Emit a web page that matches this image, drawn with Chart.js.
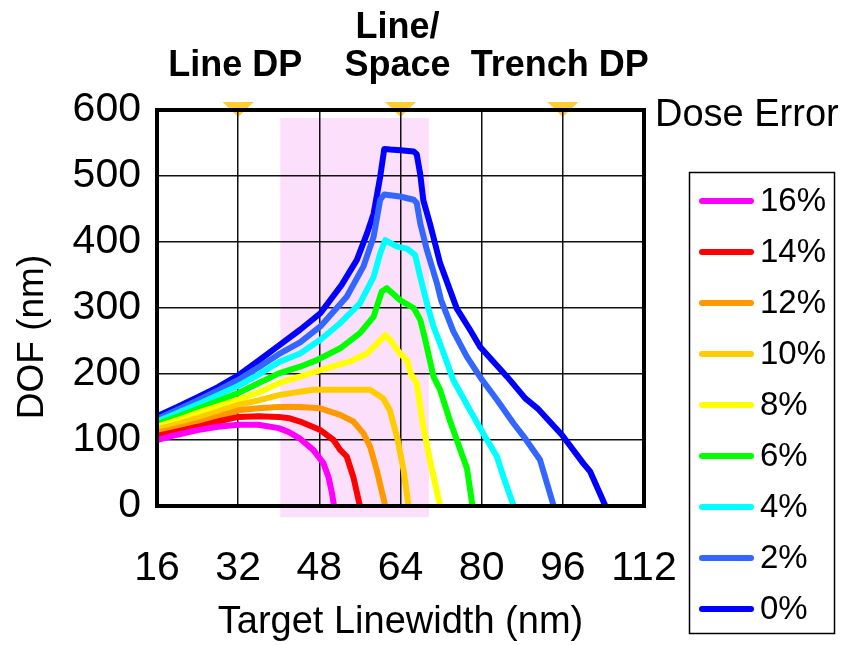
<!DOCTYPE html>
<html><head><meta charset="utf-8">
<script src="https://cdn.jsdelivr.net/npm/chart.js@4/dist/chart.umd.min.js"></script>
<style>html,body{margin:0;padding:0;background:#fff;}#wrap{position:relative;width:844px;height:645px;}</style>
</head><body><div id="wrap"><canvas id="c" width="844" height="645"></canvas></div>
<script>
// ---- data (Target Linewidth nm, DOF nm) ----
const doseLabels = ['16%','14%','12%','10%','8%','6%','4%','2%','0%'];
const dose16 = [[16,100],[20,108],[24,115],[28,120],[32,123],[36,123],[40,118],[42,112],[44.2,102],[46.8,85],[48.8,65],[49.8,44],[50.5,19],[50.9,0]];
const dose14 = [[16,106],[20,113],[24,120],[28,128],[32,135],[36,136],[40,135],[42,133],[44.2,128],[48.2,115],[50.8,100],[52.1,85],[53.4,75],[54.7,44],[56,0]];
const dose12 = [[16,111],[20,118],[24,126],[28,135],[32,145],[36,148],[40,150],[44.2,150],[48.2,148],[52.1,138],[54.7,128],[56.7,110],[58,90],[59.3,55],[61,0]];
const dose10 = [[16,116],[20,124],[24,133],[28,143],[32,153],[36,160],[40,168],[44.2,173],[46.8,176],[52,176],[58,176],[60.6,163],[61.9,145],[63.3,105],[64.6,55],[65.6,0]];
const dose8  = [[16,120],[20,130],[24,141],[28,151],[32,161],[36,172],[40,186],[44.2,196],[48.2,206],[54.1,219],[57.4,231],[60,251],[61,259],[62,251],[63.9,231],[65.3,221],[66,201],[67.2,186],[68.5,120],[69.8,70],[71.8,0]];
const dose6  = [[16,124],[20,135],[24,147],[28,159],[32,171],[36,186],[40,201],[44.2,211],[47.5,221],[52.1,239],[56,262],[58.7,287],[60.3,325],[61.3,330],[63.9,312],[66.6,300],[67.9,282],[68.9,251],[70.5,196],[71.8,176],[73.8,128],[75.8,85],[77.1,57],[78.2,0]];
const dose4  = [[16,128],[20,141],[24,154],[28,168],[32,182],[36,199],[40,218],[44.2,231],[48.2,252],[52.1,277],[56,307],[58.7,347],[60,383],[61,403],[63.3,393],[65.3,390],[66.9,380],[67.9,347],[69.2,307],[70.5,272],[72,242],[74.4,191],[77.7,145],[80.3,110],[83,75],[84.3,44],[86.3,0]];
const dose2  = [[16,132],[20,146],[24,160],[28,175],[32,191],[36,210],[40,230],[44.2,248],[48.2,272],[53.4,317],[56.7,363],[58.7,408],[60,464],[60.8,472],[63.9,469],[66.6,464],[67.2,459],[67.9,428],[69.2,388],[71.2,337],[72,312],[74.4,265],[77.1,226],[80,192],[83,161],[86.3,125],[88.6,102],[91.5,70],[94.2,0]];
const dose0  = [[16,136],[20,150],[24,165],[28,180],[32,198],[36,220],[40,243],[44.2,267],[48.2,292],[52.4,335],[55.4,373],[57.4,413],[58.7,443],[60,499],[60.8,541],[62,540],[64,539],[66.6,537],[67.2,533],[67.9,502],[68.5,463],[69.8,428],[71.8,368],[75.1,299],[77.7,267],[79.7,241],[83,213],[85,196],[88.6,163],[91,148],[95.8,108],[100,65],[101.4,52],[104.4,0]];
const doseSeries = [dose16, dose14, dose12, dose10, dose8, dose6, dose4, dose2, dose0];
const doseColors = ['#FF00FF','#FF0000','#FF9900','#FFCC00','#FFFF00','#00FF00','#00FFFF','#3366FF','#0000FF'];
const xTicks = [16,32,48,64,80,96,112];
const yTicks = [0,100,200,300,400,500,600];
const markerPositions = [32,64,96];
const markerLabels = [['Line DP'],['Line/','Space'],['Trench DP']];
const bandX = [40.3, 69.6];
const bandY = [-17, 588];
const legendTitle = 'Dose Error';
const yTitle = 'DOF (nm)';
const xTitle = 'Target Linewidth (nm)';

const FONT = "'Liberation Sans', Arial, sans-serif";

const decor = {
  id: 'decor',
  beforeDraw(chart) {
    const ctx = chart.ctx, xs = chart.scales.x, ys = chart.scales.y;
    ctx.save();
    ctx.fillStyle = '#fff';
    ctx.fillRect(0, 0, chart.width, chart.height);
    const x0 = xs.getPixelForValue(bandX[0]), x1 = xs.getPixelForValue(bandX[1]);
    const y0 = ys.getPixelForValue(bandY[1]), y1 = ys.getPixelForValue(bandY[0]);
    ctx.fillStyle = '#FCE0FB';
    ctx.fillRect(x0, y0, x1 - x0, y1 - y0);
    ctx.fillStyle = '#FFCC33';
    const top = chart.chartArea.top;
    markerPositions.forEach(v => {
      const px = xs.getPixelForValue(v);
      ctx.beginPath();
      ctx.moveTo(px - 15.5, top - 8);
      ctx.lineTo(px + 15.5, top - 8);
      ctx.lineTo(px, top + 7);
      ctx.closePath();
      ctx.fill();
    });
    ctx.restore();
  },
  afterDraw(chart) {
    const ctx = chart.ctx, xs = chart.scales.x;
    const ca = chart.chartArea;
    ctx.save();
    ctx.strokeStyle = '#000';
    ctx.lineWidth = 4;
    ctx.strokeRect(ca.left, ca.top, ca.right - ca.left, ca.bottom - ca.top);
    ctx.fillStyle = '#000';
    // y axis title
    ctx.save();
    ctx.font = '37px ' + FONT;
    ctx.translate(33, 337);
    ctx.rotate(-Math.PI / 2);
    ctx.textAlign = 'center';
    ctx.textBaseline = 'middle';
    ctx.fillText(yTitle, 0, 0);
    ctx.restore();
    // process labels
    ctx.font = 'bold 36px ' + FONT;
    ctx.textAlign = 'center';
    ctx.textBaseline = 'alphabetic';
    markerLabels.forEach((lines, i) => {
      const px = xs.getPixelForValue(markerPositions[i]) - 3;
      const n = lines.length;
      lines.forEach((t, j) => {
        ctx.fillText(t, px, 76 - (n - 1 - j) * 38);
      });
    });
    ctx.font = '38px ' + FONT;
    ctx.textAlign = 'left';
    ctx.fillText(legendTitle, 655, 126);
    ctx.lineWidth = 1.5;
    ctx.strokeRect(689.5, 172.5, 145, 461);
    ctx.font = '33px ' + FONT;
    ctx.textBaseline = 'middle';
    chart.data.datasets.forEach((ds, i) => {
      const y = 201 + i * 51;
      ctx.strokeStyle = ds.borderColor;
      ctx.lineWidth = 6;
      ctx.lineCap = 'round';
      ctx.beginPath();
      ctx.moveTo(702, y);
      ctx.lineTo(751, y);
      ctx.stroke();
      ctx.fillStyle = '#000';
      ctx.fillText(ds.label, 760, y + 1);
    });
    ctx.restore();
  }
};

new Chart(document.getElementById('c'), {
  type: 'line',
  data: {
    datasets: doseSeries.map((s, i) => ({
      label: doseLabels[i],
      data: s.map(([x, y]) => ({x, y})),
      borderColor: doseColors[i],
      backgroundColor: doseColors[i],
      borderWidth: 6,
      pointRadius: 0,
      tension: 0,
      borderJoinStyle: 'round',
      borderCapStyle: 'butt',
      clip: false
    }))
  },
  options: {
    responsive: false,
    animation: false,
    layout: { padding: { left: 0, right: 200, top: 110, bottom: 0 } },
    plugins: { legend: { display: false }, tooltip: { enabled: false } },
    scales: {
      x: {
        type: 'linear', min: 16, max: 112,
        afterFit(s) { s.height = 139; },
        afterBuildTicks(s) { s.ticks = xTicks.map(v => ({value: v})); },
        ticks: { color: '#000', padding: 38, font: { size: 41, family: FONT } },
        grid: { color: '#111', lineWidth: 1.5, drawTicks: false },
        border: { display: false },
        title: { display: true, text: xTitle, color: '#000', font: { size: 38, family: FONT }, padding: { top: 0, bottom: 0 } }
      },
      y: {
        type: 'linear', min: 0, max: 600,
        afterFit(s) { s.width = 157; },
        afterBuildTicks(s) { s.ticks = yTicks.map(v => ({value: v})); },
        ticks: { color: '#000', padding: 16, font: { size: 41, family: FONT } },
        grid: { color: '#111', lineWidth: 1.5, drawTicks: false },
        border: { display: false },
        title: { display: false }
      }
    }
  },
  plugins: [decor]
});
</script></body></html>
